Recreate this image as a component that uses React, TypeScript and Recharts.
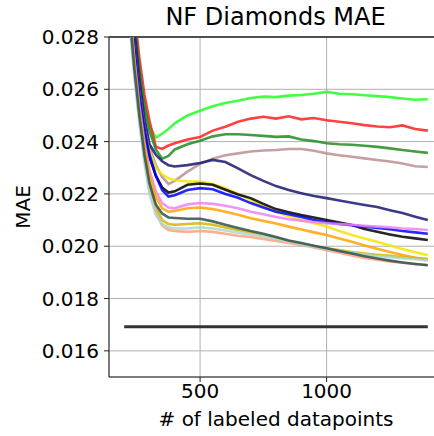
import { CartesianGrid, Line, LineChart, ReferenceLine, XAxis, YAxis } from 'recharts'

const FONT = '"DejaVu Sans", sans-serif'

// labeled datapoints (x positions of the samples)
const labeled = [
  200, 220, 240, 260, 280, 300, 325, 350, 375, 400, 450, 500, 550, 600, 650, 700, 750, 800, 850,
  900, 950, 1000, 1050, 1100, 1150, 1200, 1250, 1300, 1350, 1400,
]

const lime = [
  0.0345, 0.0305, 0.0283, 0.0266, 0.0254, 0.0246, 0.02415, 0.0243, 0.02448, 0.0247, 0.025,
  0.02518, 0.02535, 0.02548, 0.02556, 0.02567, 0.02572, 0.0257, 0.02576, 0.02578, 0.02583, 0.0259,
  0.02583, 0.02581, 0.02577, 0.02574, 0.0257, 0.02565, 0.0256, 0.02562,
]
const red = [
  0.0355, 0.0315, 0.029, 0.0272, 0.0258, 0.0248, 0.0238, 0.02372, 0.02385, 0.02394, 0.02408,
  0.02418, 0.02442, 0.02457, 0.02476, 0.02488, 0.02495, 0.02488, 0.02497, 0.02485, 0.0249,
  0.02482, 0.02476, 0.0247, 0.02463, 0.02458, 0.02455, 0.02462, 0.02448, 0.02442,
]
const forest = [
  0.035, 0.031, 0.0287, 0.0268, 0.0254, 0.0244, 0.0237, 0.02335, 0.02345, 0.0237, 0.0239,
  0.02403, 0.0242, 0.02428, 0.02428, 0.02425, 0.02422, 0.02418, 0.0242, 0.02408, 0.02402,
  0.02394, 0.0239, 0.02388, 0.02384, 0.0238, 0.02374, 0.02368, 0.02362, 0.02357,
]
const rosy = [
  0.034, 0.03, 0.028, 0.0262, 0.0248, 0.0238, 0.0231, 0.02265, 0.02238, 0.0225, 0.02285, 0.02315,
  0.02335, 0.02348, 0.02355, 0.02362, 0.02366, 0.02368, 0.02372, 0.02372, 0.02365, 0.02355,
  0.02348, 0.02342, 0.02336, 0.0233, 0.02324, 0.02316, 0.02306, 0.02303,
]
const navy = [
  0.0345, 0.0305, 0.0283, 0.0264, 0.0249, 0.0239, 0.0235, 0.02325, 0.0231, 0.02305, 0.0231,
  0.02318, 0.0233, 0.02322, 0.02298, 0.02272, 0.0225, 0.0223, 0.02215, 0.02203, 0.02192, 0.02184,
  0.02175, 0.02166, 0.02158, 0.0215, 0.02138, 0.02127, 0.02113, 0.021,
]
const yellow = [
  0.0335, 0.0298, 0.0275, 0.0258, 0.0245, 0.0236, 0.023, 0.02275, 0.0226, 0.02252, 0.02248,
  0.02247, 0.02238, 0.02222, 0.022, 0.02177, 0.02155, 0.02132, 0.02115, 0.021, 0.02088, 0.02075,
  0.02058, 0.02043, 0.0203, 0.02017, 0.02003, 0.01989, 0.01977, 0.01966,
]
const black = [
  0.0335, 0.0297, 0.0274, 0.0256, 0.0243, 0.0234, 0.0227, 0.02225, 0.02205, 0.0221, 0.02235,
  0.0224, 0.02235, 0.02216, 0.02198, 0.02184, 0.02162, 0.02142, 0.0213, 0.02119, 0.0211, 0.021,
  0.02091, 0.02081, 0.02066, 0.02055, 0.02045, 0.02036, 0.0203, 0.02024,
]
const blue = [
  0.0338, 0.03, 0.0276, 0.0258, 0.0245, 0.0235, 0.0227, 0.02215, 0.0219, 0.02195, 0.02215,
  0.02222, 0.02218, 0.022, 0.02185, 0.02165, 0.02148, 0.02132, 0.02122, 0.02112, 0.021, 0.02092,
  0.02085, 0.0208, 0.02075, 0.0207, 0.02065, 0.02058, 0.02053, 0.02048,
]
const violet = [
  0.033, 0.0294, 0.0272, 0.0254, 0.024, 0.0229, 0.0221, 0.02165, 0.02148, 0.02145, 0.0216,
  0.02165, 0.02162, 0.02155, 0.02145, 0.02132, 0.02122, 0.02112, 0.02103, 0.02098, 0.02092,
  0.02088, 0.02085, 0.02082, 0.02078, 0.02075, 0.02072, 0.02068, 0.02066, 0.02062,
]
const orange = [
  0.033, 0.0293, 0.0271, 0.0252, 0.0238, 0.0227, 0.0219, 0.02145, 0.02132, 0.02135, 0.02145,
  0.02148, 0.02142, 0.02132, 0.0212, 0.02107, 0.02097, 0.02087, 0.02075, 0.02064, 0.02053,
  0.02043, 0.0203, 0.02017, 0.02003, 0.0199, 0.01978, 0.01966, 0.01956, 0.01947,
]
const gold = [
  0.0327, 0.0291, 0.0269, 0.0251, 0.0236, 0.0224, 0.0215, 0.021, 0.02085, 0.02082, 0.02085,
  0.02088, 0.02082, 0.02072, 0.02062, 0.02052, 0.02042, 0.02032, 0.0202, 0.0201, 0.02, 0.01992,
  0.01985, 0.01978, 0.01972, 0.01967, 0.01963, 0.01958, 0.01955, 0.01952,
]
const salmon = [
  0.0322, 0.0288, 0.0266, 0.0248, 0.0233, 0.0221, 0.0213, 0.0208, 0.02062, 0.02058, 0.02055,
  0.02058, 0.02055, 0.02048, 0.0204, 0.02035, 0.02028, 0.0202, 0.02012, 0.02005, 0.01995,
  0.01985, 0.01975, 0.01965, 0.01955, 0.01948, 0.01942, 0.01937, 0.01932, 0.01928,
]
const lightblue = [
  0.032, 0.0287, 0.0265, 0.0247, 0.0232, 0.022, 0.0212, 0.02085, 0.02072, 0.02068, 0.02068,
  0.02072, 0.02068, 0.0206, 0.02052, 0.02045, 0.02038, 0.02028, 0.02018, 0.02008, 0.01998,
  0.0199, 0.01982, 0.01975, 0.01968, 0.01962, 0.01958, 0.01954, 0.0195, 0.01946,
]
const slate = [
  0.0325, 0.029, 0.0268, 0.025, 0.0235, 0.0224, 0.0216, 0.02125, 0.0211, 0.02108, 0.02105,
  0.02105, 0.02095, 0.02082, 0.0207, 0.02058, 0.02048, 0.02035, 0.02022, 0.02012, 0.02002,
  0.01992, 0.01982, 0.01972, 0.01962, 0.01953, 0.01945, 0.01938, 0.01932, 0.01927,
]

// horizontal reference result
const baselineX = [200, 1400]
const baselineY = [0.01692, 0.01692]

const yTicks = [0.016, 0.018, 0.02, 0.022, 0.024, 0.026, 0.028]
const xTicks = [500, 1000]

const series = [
  { key: 'lime', values: lime, color: '#22ff22' },
  { key: 'red', values: red, color: '#ff2020' },
  { key: 'forest', values: forest, color: '#228b22' },
  { key: 'rosy', values: rosy, color: '#bc8f8f' },
  { key: 'navy', values: navy, color: '#191970' },
  { key: 'yellow', values: yellow, color: '#f2e600' },
  { key: 'black', values: black, color: '#000000' },
  { key: 'blue', values: blue, color: '#0000ff' },
  { key: 'violet', values: violet, color: '#ee82ee' },
  { key: 'orange', values: orange, color: '#ffa500' },
  { key: 'gold', values: gold, color: '#d4b400' },
  { key: 'salmon', values: salmon, color: '#ffa07a' },
  { key: 'lightblue', values: lightblue, color: '#a8d8d0' },
  { key: 'slate', values: slate, color: '#2f4f4f' },
]

const rows = labeled.map((x, i) => {
  const row: Record<string, number> = { x }
  series.forEach((s) => {
    row[s.key] = s.values[i]
  })
  return row
})

const baselineRows = baselineX.map((x, i) => ({ x, base: baselineY[i] }))

const tickStyle = { fontSize: 20, fill: '#000', fontFamily: FONT }

function YLabel() {
  return (
    <text
      x={23}
      y={207}
      transform="rotate(-90 23 207)"
      textAnchor="middle"
      dominantBaseline="central"
      fontSize={20}
      fontFamily={FONT}
      fill="#000"
    >
      MAE
    </text>
  )
}

export default function App() {
  return (
    <div
      style={{
        position: 'fixed',
        left: 0,
        top: 0,
        width: 434,
        height: 436,
        overflow: 'hidden',
        background: '#fff',
      }}
    >
      <div
        style={{
          position: 'absolute',
          left: 0,
          top: 0,
          width: 551,
          textAlign: 'center',
          fontFamily: FONT,
          fontSize: 24,
          lineHeight: '34px',
          color: '#000',
        }}
      >
        NF Diamonds MAE
      </div>
      <LineChart
        width={450}
        height={436}
        data={rows}
        margin={{ top: 37, right: 7, bottom: 0, left: 0 }}
        style={{ position: 'absolute', left: 0, top: 0 }}
      >
        <CartesianGrid stroke="#b0b0b0" strokeWidth={1} />
        <XAxis
          type="number"
          dataKey="x"
          domain={[140, 1460]}
          allowDataOverflow
          ticks={xTicks}
          height={59}
          tick={tickStyle}
          tickSize={5}
          tickMargin={2}
          axisLine={{ stroke: '#222' }}
          tickLine={{ stroke: '#222' }}
          label={{
            value: '# of labeled datapoints',
            position: 'insideBottom',
            offset: 10,
            fontSize: 20,
            fill: '#000',
            fontFamily: FONT,
          }}
        />
        <YAxis
          type="number"
          domain={[0.015, 0.028]}
          allowDataOverflow
          ticks={yTicks}
          width={109}
          tick={tickStyle}
          tickFormatter={(v: number) => v.toFixed(3)}
          tickSize={5}
          tickMargin={5}
          axisLine={{ stroke: '#222' }}
          tickLine={{ stroke: '#222' }}
          label={<YLabel />}
        />
        <ReferenceLine y={0.028} stroke="#222" strokeWidth={1.5} />
        {series.map((s) => (
          <Line
            key={s.key}
            type="linear"
            dataKey={s.key}
            stroke={s.color}
            strokeWidth={2.6}
            strokeOpacity={0.85}
            dot={false}
            activeDot={false}
            isAnimationActive={false}
          />
        ))}
        <Line
          data={baselineRows}
          type="linear"
          dataKey="base"
          stroke="#333"
          strokeWidth={3}
          dot={false}
          activeDot={false}
          isAnimationActive={false}
        />
      </LineChart>
    </div>
  )
}
